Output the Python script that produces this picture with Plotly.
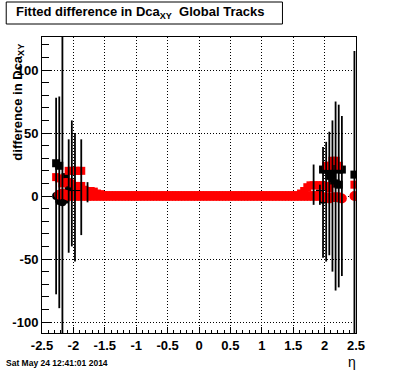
import plotly.graph_objects as go

# ---------------- data ----------------
# red circles: bin centres of width 0.05 in eta, values of fitted difference
rc_eta = [round(-2.225 + 0.05 * i, 3) for i in range(91)] + [2.475]
rc_val = [1, 2, 1,
          0, 0, 0, 0, 0, 0, 0, 0, 0, 0,
          0, 0, 0, 0, 0, 0, 0, 0, 0, 0,
          0, 0, 0, 0, 0, 0, 0, 0, 0, 0,
          0, 0, 0, 0, 0, 0, 0, 0, 0, 0,
          0, 0, 0, 0, 0, 0, 0, 0, 0, 0,
          0, 0, 0, 0, 0, 0, 0, 0, 0, 0,
          0, 0, 0, 0, 0, 0, 0, 0, 0, 0,
          0, 0, 0, 0, 0, 0, 0, 0, 0, 0,
          0,
          -1, -1, -2, -1, -1, -1, -2,
          0]

# red squares
rs_eta = [-2.275, -2.225, -2.075, -2.025, -1.975, -1.925, -1.875,
          -2.175, -2.125, -2.075, -2.025, -1.975, -1.925, -1.875, -1.825,
          -1.775, -1.725, -1.675, -1.625, -1.575, -1.525,
          1.625, 1.675, 1.725, 1.775, 1.825, 1.875, 1.925, 1.975, 2.025, 2.075,
          2.025, 2.075, 2.125, 2.175, 2.225, 2.475]
rs_val = [15, 14, 20, 20, 20, 20, 20,
          10, 11, 11, 10, 8, 8, 8, 5,
          4, 4, 3.5, 2, 1.5, 0.5,
          2, 4, 7, 8.5, 8.5, 8.5, 8.5, 8.5, 8, 6,
          24, 24, 28, 28, 24, 9]

# black squares
bs_eta = [-2.275, -2.225, -2.125, -2.075, -1.975, -1.925, -1.875,
          1.925, 1.975, 2.025, 2.075, 2.125, 2.175, 2.225, 2.275,
          2.075, 2.125, 2.125, 2.175, 2.225, 2.475]
bs_val = [26, 24, 15, 5, 3, 3, 3,
          2, 21, 21, 21, 21, 22, 21, 21,
          16, 16, 10, 10, 9, 17]

# black circles
bc_eta = [-2.275, -2.225, -2.175, -2.125, 1.975, 2.025, 2.225, 2.275]
bc_val = [0, -4, -5, -3, -3, -2, -2, -2]

# fit uncertainties (centre and half-length of the vertical error bars)
err_eta = [-2.275, -2.225, -2.175, -2.075, -2.025, -1.975, -1.875, -1.775,
           1.825, 1.925, 1.975, 2.025, 2.075, 2.125, 2.175, 2.225, 2.275, 2.475]
err_mid = [0, -5, 0, 0, 10, -1, 7, 3,
           9, 1, -5, -4.5, 2, 0, 0, 0, 0, 0]
err_half = [78, 84, 150, 45, 50, 51, 38, 8,
            16, 8, 44, 47.5, 49, 60, 75, 72.5, 63.5, 115]

x_ticks = [-2.5, -2.0, -1.5, -1.0, -0.5, 0.0, 0.5, 1.0, 1.5, 2.0, 2.5]
x_ticktext = ["-2.5", "-2", "-1.5", "-1", "-0.5", "0", "0.5", "1", "1.5", "2", "2.5"]
y_ticks = [-100, -50, 0, 50, 100]
y_ticktext = ["-100", "-50", "0", "50", "100"]

# ---------------- figure ----------------
FONT = "Liberation Sans"
W, H = 396, 372
ML, MR, MT, MB = 40, 40, 37, 39
PW, PH = W - ML - MR, H - MT - MB


def px(xp):
    return (xp - ML) / PW


def py(yp):
    return (H - MB - yp) / PH


fig = go.Figure()
fig.add_trace(go.Scatter(x=bs_eta, y=bs_val, mode="markers",
                         marker=dict(symbol="square", size=8, color="black"),
                         showlegend=False, hoverinfo="skip"))
fig.add_trace(go.Scatter(x=bc_eta, y=bc_val, mode="markers",
                         marker=dict(symbol="circle", size=8, color="black"),
                         showlegend=False, hoverinfo="skip"))
fig.add_trace(go.Scatter(x=rs_eta, y=rs_val, mode="markers",
                         marker=dict(symbol="square", size=8, color="#ff0000"),
                         showlegend=False, hoverinfo="skip"))
fig.add_trace(go.Scatter(x=rc_eta, y=rc_val, mode="markers",
                         marker=dict(symbol="circle", size=10, color="#ff0000"),
                         showlegend=False, hoverinfo="skip"))
fig.add_trace(go.Scatter(x=err_eta, y=err_mid, mode="markers",
                         marker=dict(size=1, color="rgba(0,0,0,0)"),
                         error_y=dict(type="data", array=err_half, color="black",
                                      thickness=1.8, width=0),
                         showlegend=False, hoverinfo="skip"))

tickfont = dict(family=FONT, size=13, color="black", weight="bold")

fig.update_xaxes(range=[-2.5, 2.5], tickmode="array", tickvals=x_ticks, ticktext=x_ticktext,
                 ticks="inside", ticklen=6, tickwidth=1, tickcolor="black",
                 minor=dict(tick0=-2.5, dtick=0.1, ticks="inside", ticklen=3,
                            tickcolor="black", showgrid=False),
                 showgrid=True, gridcolor="black", griddash="1px,2px", gridwidth=1,
                 zeroline=False, showline=True, mirror=True, linecolor="black", linewidth=1,
                 tickfont=tickfont)
fig.update_yaxes(range=[-108.7, 126.2], tickmode="array", tickvals=y_ticks, ticktext=y_ticktext,
                 ticks="inside", ticklen=10, tickwidth=1, tickcolor="black",
                 minor=dict(tick0=0, dtick=10, ticks="inside", ticklen=7,
                            tickcolor="black", showgrid=False),
                 showgrid=True, gridcolor="black", griddash="1px,2px", gridwidth=1,
                 zeroline=False, showline=True, mirror=True, linecolor="black", linewidth=1,
                 tickfont=tickfont)

fig.update_layout(
    width=W, height=H,
    margin=dict(l=ML, r=MR, t=MT, b=MB),
    paper_bgcolor="white", plot_bgcolor="white",
    showlegend=False,
    shapes=[dict(type="rect", xref="paper", yref="paper",
                 x0=px(4), x1=px(282), y0=py(24), y1=py(2),
                 line=dict(color="black", width=1), fillcolor="white", layer="above")],
    annotations=[
        dict(text="Fitted difference in Dca<sub>XY</sub>&nbsp;&nbsp;Global Tracks",
             xref="paper", yref="paper", x=px(12), y=py(13), xanchor="left", yanchor="middle",
             showarrow=False, font=dict(family=FONT, size=13, color="black", weight="bold")),
        dict(text="difference in Dca<sub>XY</sub>", textangle=-90,
             xref="paper", yref="paper", x=px(15.5), y=py(102), xanchor="center", yanchor="middle",
             showarrow=False, font=dict(family=FONT, size=13, color="black", weight="bold")),
        dict(text="η", xref="paper", yref="paper", x=px(352), y=py(362),
             xanchor="center", yanchor="middle", showarrow=False,
             font=dict(family=FONT, size=14, color="black")),
        dict(text="Sat May 24 12:41:01 2014", xref="paper", yref="paper", x=px(2), y=py(363),
             xanchor="left", yanchor="middle", showarrow=False,
             font=dict(family=FONT, size=8.5, color="black", weight="bold")),
    ],
)

fig.write_html("out.html", config={"displayModeBar": False},
               post_script="document.body.style.margin='0';document.body.style.padding='0';")
